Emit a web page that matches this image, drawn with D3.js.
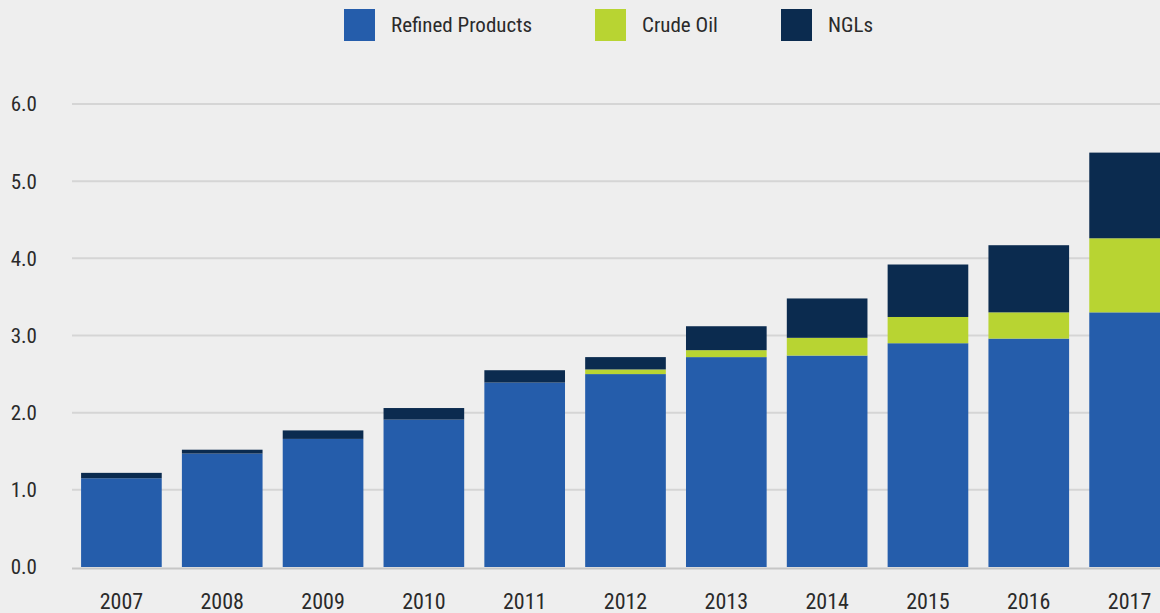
<!DOCTYPE html>
<html>
<head>
<meta charset="utf-8">
<script src="https://cdn.jsdelivr.net/npm/d3@7"></script>
<style>
  html, body { margin: 0; padding: 0; background: #eeeeee; overflow: hidden; }
  text { font-family: "Liberation Sans Narrow", "Arial Narrow", "Roboto Condensed", "Liberation Sans", sans-serif; fill: #2a2a2a; }
</style>
</head>
<body>
<div id="chart"></div>
<script>
// values
var years = ["2007", "2008", "2009", "2010", "2011", "2012", "2013", "2014", "2015", "2016", "2017"];
var refinedProducts = [1.15, 1.47, 1.66, 1.91, 2.39, 2.50, 2.72, 2.74, 2.90, 2.96, 3.30];
var crudeOil        = [0.00, 0.00, 0.00, 0.00, 0.00, 0.06, 0.09, 0.23, 0.34, 0.34, 0.96];
var ngls            = [0.07, 0.05, 0.11, 0.15, 0.16, 0.16, 0.31, 0.51, 0.68, 0.87, 1.11];
var yTicks = [0, 1, 2, 3, 4, 5, 6];

var seriesNames = ["Refined Products", "Crude Oil", "NGLs"];
var colors = ["#255dab", "#b8d432", "#0b2b4f"];

var width = 1160, height = 613;

var svg = d3.select("#chart")
  .append("svg")
    .attr("width", width)
    .attr("height", height);

// build rows for the stack
var rows = years.map(function(y, i) {
  return { year: y, "Refined Products": refinedProducts[i], "Crude Oil": crudeOil[i], "NGLs": ngls[i] };
});
var stacked = d3.stack().keys(seriesNames)(rows);

var x = d3.scaleBand()
  .domain(years)
  .range([71, 1180])
  .paddingInner(0.2)
  .paddingOuter(0.1);

var y = d3.scaleLinear()
  .domain([0, 6])
  .range([567, 104]);

var color = d3.scaleOrdinal().domain(seriesNames).range(colors);

// gridlines
svg.append("g")
  .selectAll("line")
  .data(yTicks)
  .enter().append("line")
    .attr("x1", 72)
    .attr("x2", width)
    .attr("y1", function(d) { return d === 0 ? y(d) + 1.5 : y(d); })
    .attr("y2", function(d) { return d === 0 ? y(d) + 1.5 : y(d); })
    .attr("stroke", function(d) { return d === 0 ? "#c6c6c6" : "#d5d5d5"; })
    .attr("stroke-width", 2);

// y labels
svg.append("g")
  .selectAll("text")
  .data(yTicks)
  .enter().append("text")
    .attr("x", 37)
    .attr("y", function(d) { return y(d); })
    .attr("dy", "0.35em")
    .attr("text-anchor", "end")
    .style("font-size", "21px")
    .text(function(d) { return d3.format(".1f")(d); });

// bars
svg.append("g")
  .selectAll("g")
  .data(stacked)
  .enter().append("g")
    .attr("fill", function(d) { return color(d.key); })
  .selectAll("rect")
  .data(function(d) { return d; })
  .enter().append("rect")
    .attr("x", function(d) { return x(d.data.year); })
    .attr("y", function(d) { return y(d[1]); })
    .attr("width", x.bandwidth())
    .attr("height", function(d) { return y(d[0]) - y(d[1]); });

// x labels
svg.append("g")
  .selectAll("text")
  .data(years)
  .enter().append("text")
    .attr("x", function(d) { return x(d) + x.bandwidth() / 2; })
    .attr("y", 609)
    .attr("text-anchor", "middle")
    .style("font-size", "22px")
    .text(function(d) { return d; });

// legend
var legendX = [344, 595, 781];
var legend = svg.append("g")
  .selectAll("g")
  .data(seriesNames)
  .enter().append("g")
    .attr("transform", function(d, i) { return "translate(" + legendX[i] + ",9)"; });

legend.append("rect")
  .attr("width", 31)
  .attr("height", 32)
  .attr("fill", function(d) { return color(d); });

legend.append("text")
  .attr("x", 47)
  .attr("y", 23)
  .style("font-size", "21px")
  .text(function(d) { return d; });
</script>
</body>
</html>
